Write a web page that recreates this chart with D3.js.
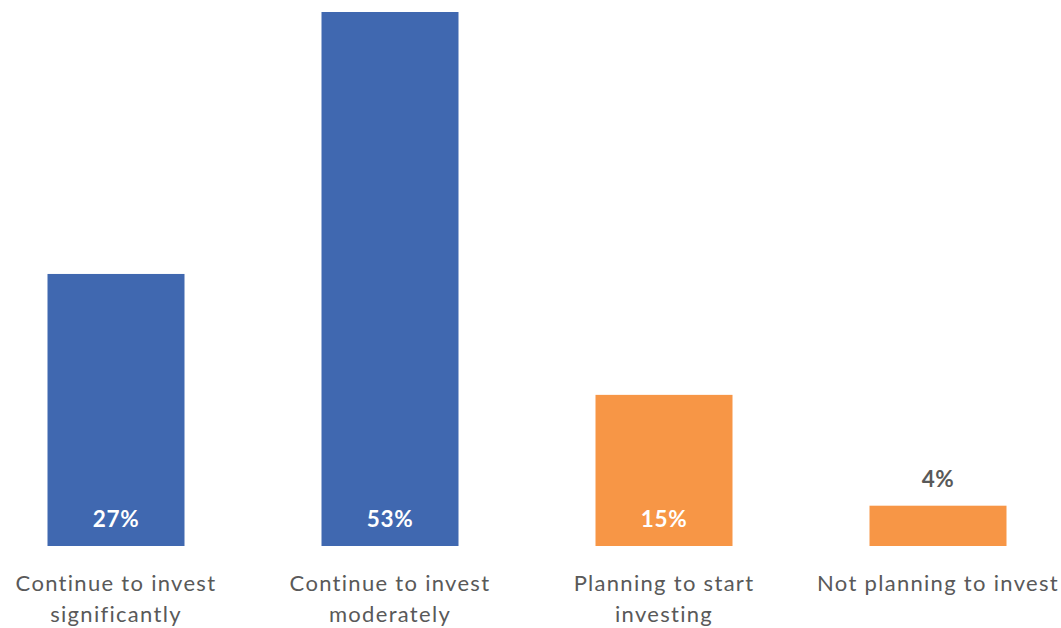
<!DOCTYPE html>
<html>
<head>
<meta charset="utf-8">
<script src="https://cdn.jsdelivr.net/npm/d3@7"></script>
<style>
  html, body { margin: 0; padding: 0; background: #fff; }
  svg { display: block; }
</style>
</head>
<body>
<svg id="chart" width="1061" height="628"></svg>
<script>
// Survey responses: share of respondents per investment intention
const categories = ["Continue to invest significantly", "Continue to invest moderately", "Planning to start investing", "Not planning to invest"];
const labelLines = [["Continue to invest", "significantly"], ["Continue to invest", "moderately"], ["Planning to start", "investing"], ["Not planning to invest"]];
const values = [27, 53, 15, 4];
const groups = ["invest", "invest", "new", "none"];
const valueLabels = ["27%", "53%", "15%", "4%"];

const colors = { invest: "#4068B0", new: "#F79646", none: "#F79646" };

const svg = d3.select("#chart");
const baseline = 546;

const x = d3.scaleBand()
  .domain(categories)
  .range([-21, 1075])
  .paddingInner(0.5)
  .paddingOuter(0.25);

const y = d3.scaleLinear()
  .domain([0, 53])
  .range([baseline, 12]);

const font = "Lato, 'Open Sans', sans-serif";

// Bars
svg.selectAll("rect.bar")
  .data(categories)
  .join("rect")
  .attr("class", "bar")
  .attr("x", d => x(d))
  .attr("width", x.bandwidth())
  .attr("y", (d, i) => y(values[i]))
  .attr("height", (d, i) => baseline - y(values[i]))
  .attr("fill", (d, i) => colors[groups[i]]);

// Value labels: inside the bar when it is tall enough, above it otherwise
const inside = i => baseline - y(values[i]) > 60;
svg.selectAll("text.value")
  .data(categories)
  .join("text")
  .attr("class", "value")
  .attr("x", d => x(d) + x.bandwidth() / 2)
  .attr("y", (d, i) => inside(i) ? baseline - 19 : y(values[i]) - 19)
  .attr("text-anchor", "middle")
  .attr("font-family", font)
  .attr("font-weight", "bold")
  .attr("font-size", 22.5)
  .attr("letter-spacing", 0.6)
  .attr("fill", (d, i) => inside(i) ? "#ffffff" : "#595959")
  .text((d, i) => valueLabels[i]);

// Category labels
const cat = svg.selectAll("text.cat")
  .data(categories)
  .join("text")
  .attr("class", "cat")
  .attr("text-anchor", "middle")
  .attr("font-family", font)
  .attr("font-size", 22)
  .attr("letter-spacing", 1.3)
  .attr("fill", "#595959");

cat.each(function (d, i) {
  const t = d3.select(this);
  labelLines[i].forEach((line, j) => {
    t.append("tspan")
      .attr("x", x(d) + x.bandwidth() / 2)
      .attr("y", 591 + j * 31)
      .text(line);
  });
});
</script>
</body>
</html>
